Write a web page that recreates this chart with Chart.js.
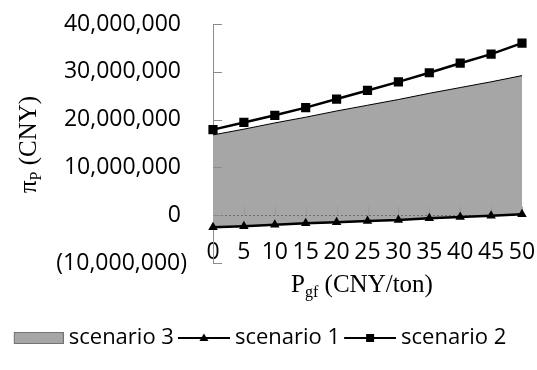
<!DOCTYPE html>
<html><head><meta charset="utf-8">
<script src="https://cdn.jsdelivr.net/npm/chart.js@4/dist/chart.umd.min.js"></script>
<style>html,body{margin:0;padding:0;background:#fff}#wrap{width:537px;height:370px}</style>
</head><body><div id="wrap"><canvas id="c" width="537" height="370"></canvas></div>
<script>
const categories = ['0','5','10','15','20','25','30','35','40','45','50'];
const scenario3 = [16800000,18000000,19300000,20500000,21800000,23000000,24200000,25500000,26700000,27900000,29200000];
const scenario1 = [-2500000,-2300000,-2000000,-1700000,-1500000,-1200000,-1000000,-650000,-400000,-100000,200000];
const scenario2 = [17900000,19400000,20900000,22500000,24300000,26100000,27900000,29800000,31800000,33700000,36000000];
const yMin = -10000000, yMax = 40000000, yStep = 10000000;
const xLabelLevel = -4900000;
const seriesNames = ['scenario 3','scenario 1','scenario 2'];

const SANS = '"Open Sans", "Noto Sans", sans-serif';
const SERIF = '"Liberation Serif", "DejaVu Serif", serif';
Chart.defaults.font.family = SANS;
Chart.defaults.color = '#000';

function fmt(v){
  const s = Math.abs(v).toLocaleString('en-US');
  return v < 0 ? '(' + s + ')' : s + ' ';
}

function makeIcon(kind){
  const c = document.createElement('canvas');
  c.width = 54; c.height = 16;
  const g = c.getContext('2d');
  if (kind === 'area'){
    g.fillStyle = '#a6a6a6';
    g.fillRect(4, 2, 50, 12);
    g.strokeStyle = '#404040'; g.lineWidth = 1; g.setLineDash([1,1]);
    g.strokeRect(4.5, 2.5, 49, 11);
  } else {
    g.strokeStyle = '#000'; g.lineWidth = 2;
    g.beginPath(); g.moveTo(2, 8); g.lineTo(54, 8); g.stroke();
    g.fillStyle = '#000';
    if (kind === 'tri'){
      g.beginPath(); g.moveTo(28, 3.5); g.lineTo(32.5, 11); g.lineTo(23.5, 11); g.closePath(); g.fill();
    } else {
      g.fillRect(24, 4, 8, 8);
    }
  }
  return c;
}
const icons = [makeIcon('area'), makeIcon('tri'), makeIcon('sq')];

const decor = {
  id: 'decor',
  afterDatasetDraw(chart, args){
    if (args.index !== 0) return;
    const g = chart.ctx, xs = chart.scales.x, ys = chart.scales.y;
    const y0 = Math.round(ys.getPixelForValue(0)) + 0.5;
    g.save();
    g.strokeStyle = '#9a9a9a'; g.lineWidth = 1;
    for (let i = 1; i < categories.length; i++){
      const x = Math.round(xs.getPixelForValue(i)) + 0.5;
      g.beginPath(); g.moveTo(x, y0 - 9); g.lineTo(x, y0); g.stroke();
    }
    g.strokeStyle = '#6e6e6e'; g.setLineDash([2,2]);
    g.beginPath(); g.moveTo(chart.chartArea.left, y0); g.lineTo(chart.chartArea.right, y0); g.stroke();
    g.restore();
  },
  afterDraw(chart){
    const g = chart.ctx, ys = chart.scales.y;
    const ax = chart.chartArea.left;
    g.save();
    g.strokeStyle = '#8c8c8c'; g.lineWidth = 1;
    ys.ticks.forEach(t => {
      const y = Math.round(ys.getPixelForValue(t.value)) + 0.5;
      g.beginPath(); g.moveTo(ax, y); g.lineTo(ax + 9, y); g.stroke();
    });
    // y title
    g.fillStyle = '#000';
    g.textBaseline = 'alphabetic';
    const big = '25px ' + SERIF, small = '16px ' + SERIF;
    g.font = big; const wPi = g.measureText('\u03c0').width;
    g.font = small; const wP = g.measureText('P').width;
    g.font = big; const wRest = g.measureText(' (CNY)').width;
    const totY = wPi + wP + wRest;
    const cy = (chart.chartArea.top + chart.chartArea.bottom) / 2 + 1;
    g.translate(36, cy); g.rotate(-Math.PI / 2);
    let x = -totY / 2;
    g.font = big; g.fillText('\u03c0', x, 0); x += wPi;
    g.font = small; g.fillText('P', x, 5); x += wP;
    g.font = big; g.fillText(' (CNY)', x, 0);
    g.setTransform(1,0,0,1,0,0);
    // x title
    g.font = big; const wP2 = g.measureText('P').width;
    g.font = small; const wgf = g.measureText('gf').width;
    g.font = big; const wRest2 = g.measureText(' (CNY/ton)').width;
    const tot = wP2 + wgf + wRest2;
    let xx = 362 - tot / 2;
    const by = 292;
    g.font = big; g.fillText('P', xx, by); xx += wP2;
    g.font = small; g.fillText('gf', xx, by + 5); xx += wgf;
    g.font = big; g.fillText(' (CNY/ton)', xx, by);
    g.restore();
  }
};

new Chart(document.getElementById('c'), {
  type: 'line',
  data: {
    labels: categories,
    datasets: [
      { label: seriesNames[0], data: scenario3, fill: 1, backgroundColor: '#a6a6a6', borderColor: '#000', borderWidth: 1, pointRadius: 0, order: 3, tension: 0 },
      { label: seriesNames[1], data: scenario1, fill: false, borderColor: '#000', backgroundColor: '#000', borderWidth: 2.5, pointStyle: 'triangle', pointRadius: 5.5, pointBorderWidth: 0, order: 2, tension: 0 },
      { label: seriesNames[2], data: scenario2, fill: false, borderColor: '#000', backgroundColor: '#000', borderWidth: 2.5, pointStyle: 'rect', pointRadius: 6.5, pointBorderWidth: 0, order: 1, tension: 0 }
    ]
  },
  options: {
    responsive: false,
    animation: false,
    layout: { padding: { left: 0, top: 24, right: 15, bottom: 11 } },
    scales: {
      x: {
        grid: { display: false, drawTicks: false },
        border: { display: false },
        ticks: { display: false },
        afterFit(s){ s.height = 56; }
      },
      xl: {
        type: 'category',
        axis: 'x',
        position: { y: xLabelLevel },
        grid: { display: false, drawTicks: false },
        border: { display: false },
        ticks: { font: { size: 23 }, padding: 0, autoSkip: false, maxRotation: 0, minRotation: 0, color: '#000' }
      },
      y: {
        min: yMin, max: yMax,
        grid: { display: true, drawOnChartArea: false, drawTicks: true, tickLength: 26, color: 'rgba(0,0,0,0)', tickColor: 'rgba(0,0,0,0)' },
        border: { display: true, color: '#8c8c8c', width: 1 },
        ticks: { stepSize: yStep, font: { size: 23 }, padding: 0, color: '#000', callback: v => fmt(v) },
        afterFit(s){ s.width = 213; }
      }
    },
    plugins: {
      tooltip: { enabled: false },
      legend: {
        position: 'bottom',
        labels: {
          usePointStyle: true,
          pointStyleWidth: 42,
          padding: 8,
          font: { size: 22 },
          color: '#000',
          generateLabels(chart){
            return seriesNames.map((n, i) => ({ text: n, pointStyle: icons[i], datasetIndex: i, fillStyle: '#000', strokeStyle: '#000', lineWidth: 0, hidden: false }));
          }
        }
      }
    }
  },
  plugins: [decor]
});
</script>
</body></html>
